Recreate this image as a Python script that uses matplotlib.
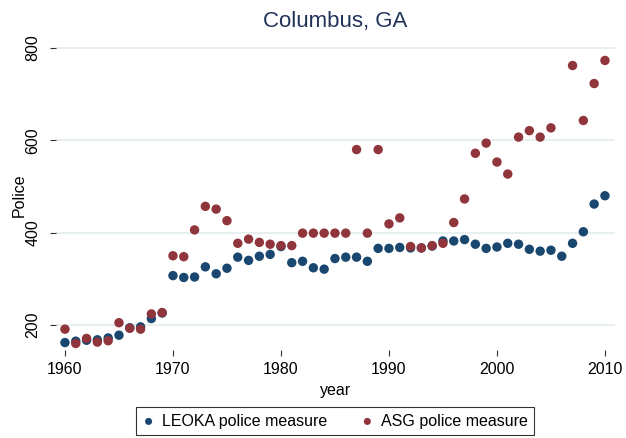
import matplotlib.pyplot as plt
import numpy as np

plt.rcParams['font.family'] = ['Liberation Sans', 'DejaVu Sans']

years = list(range(1960, 2011))

# LEOKA series (1980 value hidden under ASG marker in the reference)
leoka = [162, 165, 167, 168, 172, 178, 194, 196, 214, 226,
         307, 303, 304, 326, 311, 323, 347, 340, 349, 353,
         370, 335, 338, 324, 321, 344, 347, 347, 338, 366,
         366, 368, 367, 367, 371, 382, 382, 385, 375, 366,
         369, 377, 375, 364, 360, 362, 349, 377, 402, 462, 480]

# ASG series (no value for 2006)
asg = [191, 160, 171, 163, 166, 205, 193, 191, 224, 227,
       350, 348, 406, 457, 451, 426, 377, 386, 379, 375,
       372, 372, 399, 399, 399, 399, 399, 580, 399, 580,
       419, 432, 370, 367, 372, 377, 422, 473, 572, 594,
       553, 527, 607, 621, 607, 627, np.nan, 762, 643, 723, 773]

navy = '#1a476f'
maroon = '#90353b'

fig = plt.figure(figsize=(6.26, 4.38), dpi=100)
ax = fig.add_axes([56/626, 1 - 350/438, 559/626, 310/438])

ax.scatter(years, leoka, s=46, color=navy, edgecolors='none', zorder=3,
           label='LEOKA police measure')
ax.scatter(years, asg, s=46, color=maroon, edgecolors='none', zorder=4,
           label='ASG police measure')

ax.set_xlim(1959.17, 2010.93)
ax.set_ylim(145.9, 817.3)
ax.set_xticks([1960, 1970, 1980, 1990, 2000, 2010])
ax.set_yticks([200, 400, 600, 800])
for lab in ax.get_yticklabels():
    lab.set_rotation(90)
    lab.set_va('center')
ax.tick_params(axis='both', labelsize=11.5, length=4, color='#333333',
               direction='out', width=0.8)
ax.tick_params(axis='y', pad=7)
ax.tick_params(axis='x', pad=5)
ax.grid(axis='y', color='#e4ecec', linewidth=1.2, zorder=0)
for sp in ax.spines.values():
    sp.set_visible(False)

ax.set_title('Columbus, GA', fontsize=16, color='#22335a', pad=9)
ax.set_xlabel('year', fontsize=11.5, labelpad=4)
ax.set_ylabel('Police', fontsize=11.5)
ax.yaxis.set_label_coords(-0.053, 0.5)

leg = fig.legend(loc='lower center', bbox_to_anchor=(335/626, 3/438), ncol=2,
                 fontsize=11.5, frameon=True, fancybox=False, edgecolor='black',
                 handlelength=0.8, handletextpad=0.45, columnspacing=2.1,
                 markerscale=0.75, borderpad=0.4, borderaxespad=0)
leg.get_frame().set_linewidth(0.8)

fig.savefig('out.png', dpi=100)
